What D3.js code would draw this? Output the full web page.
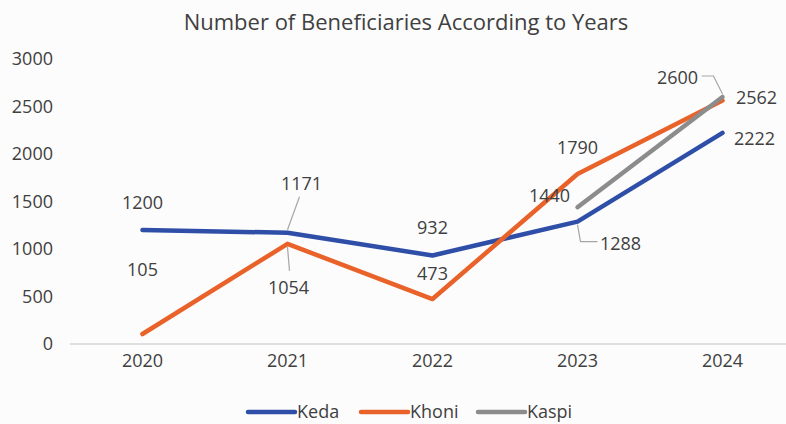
<!DOCTYPE html>
<html>
<head>
<meta charset="utf-8">
<script src="https://cdn.jsdelivr.net/npm/d3@7/dist/d3.min.js"></script>
<style>
  html, body { margin: 0; padding: 0; background: #fcfcfc; }
  svg { display: block; }
  text { font-family: "Open Sans", sans-serif; fill: #404040; }
</style>
</head>
<body>
<svg id="chart" width="786" height="424"></svg>
<script>
// Years on the category axis
const years = ["2020", "2021", "2022", "2023", "2024"];
// Beneficiaries per village and year
const keda  = [1200, 1171, 932, 1288, 2222];
const khoni = [105, 1054, 473, 1790, 2562];
const kaspi = [null, null, null, 1440, 2600];
// Value axis ticks
const yTicks = [0, 500, 1000, 1500, 2000, 2500, 3000];
const seriesNames = ["Keda", "Khoni", "Kaspi"];

const colors = { Keda: "#2e4ea8", Khoni: "#e8622a", Kaspi: "#8c8c8c" };

// Label placement relative to each point: [dx, dy], plus optional leader line points
const labelLayout = {
  Keda: [
    { d: [0, -28] },
    { d: [14, -50], leader: [[0, -3], [12, -36]] },
    { d: [0, -28] },
    { d: [43, 21], leader: [[0, 3], [3, 20], [20, 20]] },
    { d: [32, 5] }
  ],
  Khoni: [
    { d: [0, -65] },
    { d: [1, 43], leader: [[0, 3], [2, 27]] },
    { d: [0, -26] },
    { d: [0, -27] },
    { d: [34, -4] }
  ],
  Kaspi: [
    null, null, null,
    { d: [-28, -12] },
    { d: [-45, -20], leader: [[0, -3], [-9, -21], [-21, -21]] }
  ]
};

const svg = d3.select("#chart");

const x = d3.scaleBand().domain(years).range([70, 795]);
const y = d3.scaleLinear().domain([0, 3000]).range([344, 59]);
const cx = d => x(d) + x.bandwidth() / 2;

const labelSize = "18px";

// Title
svg.append("text")
  .attr("x", 406).attr("y", 30)
  .attr("text-anchor", "middle")
  .style("font-size", "22px")
  .text("Number of Beneficiaries According to Years");

// Value axis labels
const yAxis = d3.axisLeft(y).tickValues(yTicks).tickFormat(d3.format("d"))
  .tickSize(0).tickPadding(0);
const gy = svg.append("g").attr("transform", "translate(53,0)").call(yAxis);
gy.select(".domain").remove();
gy.selectAll("text").style("font-size", labelSize).style("fill", "#404040")
  .style("font-family", "'Open Sans', sans-serif");

// Category axis: baseline and year labels
const xAxis = d3.axisBottom(x).tickSize(0).tickPadding(0);
const gx = svg.append("g").attr("transform", "translate(0,344)").call(xAxis);
gx.select(".domain").attr("stroke", "#d6d6d6").attr("stroke-width", 1.5)
  .attr("d", "M70,0H786");
gx.selectAll("text").attr("dy", "1.25em").style("font-size", labelSize).style("fill", "#404040")
  .style("font-family", "'Open Sans', sans-serif");

const seriesData = { Keda: keda, Khoni: khoni, Kaspi: kaspi };

const line = d3.line()
  .defined(d => d.v !== null)
  .x(d => cx(d.year))
  .y(d => y(d.v));

seriesNames.forEach(name => {
  const pts = years.map((yr, i) => ({ year: yr, v: seriesData[name][i] }));
  svg.append("path")
    .datum(pts)
    .attr("fill", "none")
    .attr("stroke", colors[name])
    .attr("stroke-width", 4.5)
    .attr("stroke-linecap", "round")
    .attr("stroke-linejoin", "round")
    .attr("d", line);
});

// Data labels with leader lines
const leaderLine = d3.line();
seriesNames.forEach(name => {
  seriesData[name].forEach((v, i) => {
    if (v === null) return;
    const lay = labelLayout[name][i];
    const px = cx(years[i]), py = y(v);
    if (lay.leader) {
      svg.append("path")
        .attr("fill", "none")
        .attr("stroke", "#a6a6a6")
        .attr("stroke-width", 1.2)
        .attr("d", leaderLine(lay.leader.map(p => [px + p[0], py + p[1]])));
    }
    svg.append("text")
      .attr("x", px + lay.d[0])
      .attr("y", py + lay.d[1])
      .attr("text-anchor", "middle")
      .attr("dominant-baseline", "central")
      .style("font-size", labelSize)
      .text(v);
  });
});

// Legend along the bottom edge
const legendY = 411;
const legendItems = [
  { name: "Keda", x0: 248 },
  { name: "Khoni", x0: 361 },
  { name: "Kaspi", x0: 478 }
];
const lg = svg.append("g");
legendItems.forEach(it => {
  lg.append("line")
    .attr("x1", it.x0).attr("x2", it.x0 + 47)
    .attr("y1", legendY + 1).attr("y2", legendY + 1)
    .attr("stroke", colors[it.name])
    .attr("stroke-width", 4.5)
    .attr("stroke-linecap", "round");
  lg.append("text")
    .attr("x", it.x0 + 49).attr("y", legendY)
    .attr("dominant-baseline", "central")
    .style("font-size", labelSize)
    .text(it.name);
});
</script>
</body>
</html>
